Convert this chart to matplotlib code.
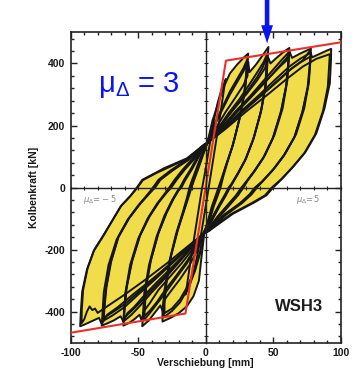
import matplotlib
matplotlib.use("Agg")
import matplotlib.pyplot as plt
from matplotlib.ticker import MultipleLocator

# hysteresis loops (mm, kN); each loop is closed
loop15_x = [0, 3, 6, 9, 12, 15, 14, 11, 7, 3, 0, -3, -6, -9, -12, -15, -14, -11, -7, -3, 0]
loop15_y = [60, 140, 215, 275, 320, 350, 330, 240, 130, 20, -60, -140, -215, -275, -315, -345, -320, -230, -120, -10, 60]

loop31a_x = [1, 5, 10, 14, 18, 23, 28, 31.5, 31, 29.5, 26, 21, 16, 13, 11, 9, 6, 2, -1,
             -3, -5, -9, -14, -20, -26, -32, -32, -30.5, -27, -22, -17, -14, -12, -10, -7, -3, 1]
loop31a_y = [140, 215, 282, 330, 368, 395, 418, 432, 400, 330, 240, 150, 80, 35, 0, -25, -60, -120, -148,
             -220, -300, -350, -383, -405, -420, -432, -400, -330, -240, -150, -80, -35, 0, 25, 60, 105, 140]

loop31b_x = [1, 6, 12, 18, 24, 28, 31, 30.5, 29, 25, 20, 15, 12, 10, 8, 5, 1, -2,
             -4, -8, -13, -19, -25, -31, -31, -29.5, -26, -21, -16, -13, -11, -9, -6, -2, 1]
loop31b_y = [142, 200, 255, 310, 355, 385, 415, 380, 310, 220, 135, 70, 28, 0, -25, -62, -125, -150,
             -210, -270, -325, -370, -398, -418, -385, -315, -225, -140, -72, -30, 0, 25, 60, 110, 142]

loop31c_x = [1, 6, 12, 18, 24, 28, 30.5, 30, 28.5, 24.5, 19.5, 14.5, 11.5, 9.5, 7.5, 4.5, 0.5, -2,
             -4, -8, -13, -19, -25, -30.5, -30.5, -29, -25.5, -20.5, -15.5, -12.5, -10.5, -8.5, -5.5, -1.5, 1]
loop31c_y = [142, 195, 248, 300, 345, 375, 400, 368, 300, 212, 128, 65, 25, 0, -25, -62, -125, -150,
             -205, -262, -315, -360, -390, -405, -372, -305, -218, -135, -68, -28, 0, 25, 60, 110, 142]

loop46a_x = [1, 8, 15, 22, 28, 31, 31.5, 32.5, 37, 42, 46.5, 46, 45, 41.5, 36, 30, 24, 20, 18, 15, 11, 6, 1, -2,
             -6, -12, -19, -26, -31, -32, -33.5, -38, -42, -47, -46.5, -45.5, -42, -36.5, -30.5, -25, -21, -19,
             -16, -11, -6, -1, 1]
loop46a_y = [143, 195, 245, 290, 330, 360, 405, 372, 395, 425, 453, 420, 345, 255, 165, 95, 45, 15, 0, -25, -55, -95, -140, -150,
             -200, -250, -295, -335, -365, -398, -380, -405, -428, -447, -415, -340, -250, -160, -90, -42, -12, 0,
             25, 60, 100, 138, 143]

loop46b_x = [1, 9, 17, 25, 32, 38, 43, 46, 45.5, 44.5, 41, 35.5, 29.5, 23.5, 19.5, 17.5, 14.5, 10.5, 5.5, 0.5, -2,
             -7, -14, -22, -30, -37, -42, -46, -45.5, -44.5, -41, -35.5, -29.5, -24.5, -20.5, -18.5, -15.5, -10.5,
             -5.5, -0.5, 1]
loop46b_y = [143, 190, 240, 285, 330, 370, 405, 435, 400, 330, 245, 158, 90, 42, 12, 0, -25, -55, -95, -140, -150,
             -195, -245, -292, -340, -380, -408, -428, -395, -325, -240, -152, -85, -40, -10, 0, 25, 60,
             100, 138, 143]

loop46c_x = [1, 9, 17, 25, 32, 38, 42, 45.5, 45, 44, 40.5, 35, 29, 23, 19, 17, 14, 10, 5, 0.5, -2,
             -7, -14, -22, -30, -36, -41, -45.5, -45, -44, -40.5, -35, -29, -24, -20, -18, -15, -10, -5, -0.5, 1]
loop46c_y = [143, 185, 232, 275, 318, 355, 385, 420, 388, 320, 238, 152, 86, 40, 11, 0, -25, -55, -95, -140, -150,
             -190, -238, -285, -330, -368, -395, -415, -383, -316, -233, -147, -82, -38, -9, 0, 25, 60, 100, 138, 143]

loop62a_x = [1, 10, 20, 30, 38, 44, 46.5, 48, 53, 58, 62, 61.5, 60.5, 57, 51, 44, 37, 31, 28, 24, 18, 10, 2, -2,
             -9, -18, -27, -35, -41, -46, -47.5, -49, -53, -57, -61, -60.5, -59.5, -56, -50, -43, -36, -30, -27,
             -23, -17, -9, -1, 1]
loop62a_y = [143, 195, 250, 300, 345, 385, 418, 400, 420, 438, 450, 418, 345, 255, 170, 105, 58, 22, 0, -25, -55, -95, -140, -150,
             -195, -245, -290, -330, -370, -400, -428, -410, -425, -437, -445, -412, -340, -250, -165, -100, -52, -18, 0,
             25, 58, 97, 138, 143]

loop62b_x = [1, 11, 22, 33, 42, 50, 56, 62, 61.5, 60, 56, 50, 43, 36, 30, 27, 23, 17, 9, 1, -2,
             -10, -20, -30, -40, -48, -55, -61, -60.5, -59, -55, -49, -42, -35, -29, -26, -22, -16, -8, -1, 1]
loop62b_y = [143, 190, 245, 295, 340, 380, 410, 438, 405, 335, 248, 162, 98, 52, 18, 0, -25, -55, -95, -140, -150,
             -192, -242, -292, -338, -378, -410, -432, -400, -330, -243, -158, -95, -48, -15, 0, 25, 58, 97, 138, 143]

loop62c_x = [1, 11, 22, 33, 42, 50, 56, 61.5, 61, 59.5, 55.5, 49.5, 42.5, 35.5, 29.5, 26.5, 22.5, 16.5, 8.5, 1, -2,
             -10, -20, -30, -40, -48, -55, -60.5, -60, -58.5, -54.5, -48.5, -41.5, -34.5, -28.5, -25.5, -21.5, -15.5,
             -7.5, -1, 1]
loop62c_y = [143, 185, 238, 288, 330, 368, 398, 425, 393, 325, 240, 156, 94, 50, 16, 0, -25, -55, -95, -140, -150,
             -188, -238, -286, -330, -368, -398, -420, -390, -322, -237, -153, -92, -46, -14, 0, 25, 58,
             97, 138, 143]

loop78a_x = [1, 12, 24, 36, 46, 55, 60, 62, 64, 70, 74, 78, 77.5, 76.5, 73, 67, 59, 51, 43, 38, 34, 27, 15, 3, -2,
             -11, -23, -35, -45, -53, -58, -61, -63, -68, -73, -77, -76.5, -75.5, -72, -66, -58, -50, -43, -39,
             -35, -26, -14, -2, 1]
loop78a_y = [143, 195, 250, 305, 350, 390, 410, 440, 418, 432, 440, 448, 415, 340, 255, 172, 110, 63, 24, 0, -22, -50, -88, -138, -150,
             -195, -248, -300, -345, -385, -405, -432, -415, -428, -438, -445, -410, -338, -250, -168, -105, -58, -22, 0,
             25, 55, 90, 136, 143]

loop78b_x = [1, 13, 26, 40, 52, 62, 70, 78, 77.5, 76, 72, 66, 58, 50, 42, 37, 33, 26, 14, 2, -2,
             -12, -25, -38, -50, -60, -69, -76, -75.5, -74, -70.5, -65, -57, -49, -42, -38, -34, -25, -13, -1, 1]
loop78b_y = [143, 190, 245, 300, 350, 390, 415, 435, 400, 330, 248, 165, 104, 58, 20, 0, -22, -50, -88, -138, -150,
             -192, -245, -298, -345, -385, -412, -430, -398, -328, -243, -162, -100, -54, -20, 0, 25, 55, 90, 136, 143]

loop78c_x = [1, 13, 26, 40, 52, 62, 70, 77.5, 77, 75.5, 71.5, 65.5, 57.5, 49.5, 41.5, 36.5, 32.5, 25.5, 13.5, 2, -2,
             -12, -25, -38, -50, -60, -69, -75.5, -75, -73.5, -70, -64.5, -56.5, -48.5, -41.5, -37.5, -33.5, -24.5,
             -12.5, -1, 1]
loop78c_y = [143, 185, 238, 292, 340, 378, 403, 422, 390, 322, 242, 160, 100, 55, 18, 0, -22, -50, -88, -138, -150,
             -188, -240, -292, -338, -376, -402, -420, -390, -320, -238, -158, -97, -52, -18, 0, 25, 55,
             90, 136, 143]

loop93a_x = [1, 14, 28, 42, 54, 64, 72, 77, 79, 85, 90, 93, 92.8, 92, 88, 82, 74, 65, 57, 50, 45, 36, 20, 3, -2,
             -13, -27, -41, -54, -65, -73, -77, -79, -85, -90, -93, -92.5, -91.5, -88, -83, -76, -63, -56, -51,
             -47, -36, -31, -14, -1, 1]
loop93a_y = [143, 195, 250, 300, 345, 385, 410, 440, 420, 432, 442, 447, 405, 336, 255, 175, 115, 68, 30, 0, -25, -48, -85, -138, -150,
             -195, -250, -300, -345, -385, -410, -440, -420, -432, -442, -447, -400, -335, -265, -205, -157, -61, -28, 0,
             25, 50, 62, 94, 138, 143]

loop93b_x = [1, 15, 30, 46, 60, 72, 82, 92, 91.5, 90.5, 87, 81, 73, 64, 56, 49, 44, 35, 19, 2, -2,
             -14, -29, -45, -60, -72, -80, -82, -84, -86, -88, -90, -92, -91.8, -90.8, -87.5, -82.5, -75.5, -62.5,
             -55.5, -50.5, -46.5, -36, -14, -1, 1]
loop93b_y = [143, 190, 245, 300, 350, 390, 415, 430, 395, 325, 248, 170, 110, 64, 27, 0, -25, -48, -85, -138, -150,
             -192, -245, -298, -345, -380, -404, -390, -395, -383, -400, -425, -438, -395, -330, -260, -200, -152, -58,
             -26, 0, 24, 48, 92, 138, 143]

loops = [
    (loop15_x, loop15_y),
    (loop31a_x, loop31a_y), (loop31b_x, loop31b_y), (loop31c_x, loop31c_y),
    (loop46a_x, loop46a_y), (loop46b_x, loop46b_y), (loop46c_x, loop46c_y),
    (loop62a_x, loop62a_y), (loop62b_x, loop62b_y), (loop62c_x, loop62c_y),
    (loop78a_x, loop78a_y), (loop78b_x, loop78b_y), (loop78c_x, loop78c_y),
    (loop93a_x, loop93a_y), (loop93b_x, loop93b_y),
]

# bilinear idealisation
bilin_x = [-100, -15, 15, 100]
bilin_y = [-468, -406, 409, 468]

arrow_x = 45.5

plt.rcParams['font.family'] = ['Liberation Sans', 'DejaVu Sans']
plt.rcParams['mathtext.fontset'] = 'dejavusans'
plt.rcParams['axes.unicode_minus'] = False

fig = plt.figure(figsize=(3.58, 3.72), dpi=100)
ax = fig.add_axes([0.1975, 0.0788, 0.754, 0.834])

yellow = '#f1dc4c'
for lx, ly in loops:
    ax.fill(lx, ly, color=yellow, lw=0, zorder=1)
for lx, ly in loops:
    ax.plot(lx, ly, color='#161616', lw=1.4, solid_joinstyle='round', zorder=2)

ax.plot(bilin_x, bilin_y, color='#e8312b', lw=1.5, zorder=3)

ax.set_xlim(-100, 100)
ax.set_ylim(-500, 500)
ax.xaxis.set_major_locator(MultipleLocator(50))
ax.xaxis.set_minor_locator(MultipleLocator(10))
ax.yaxis.set_major_locator(MultipleLocator(200))
ax.yaxis.set_minor_locator(MultipleLocator(40))
ax.tick_params(which='both', direction='in', top=True, right=True, color='#222222', width=1.0)
ax.tick_params(which='major', length=4, labelsize=7.5, pad=4, labelcolor='#1a1a1a')
ax.tick_params(which='minor', length=2.2)
for lab in ax.get_xticklabels() + ax.get_yticklabels():
    lab.set_fontweight('bold')
for s in ax.spines.values():
    s.set_linewidth(1.2)
    s.set_color('#222222')

ax.set_xlabel('Verschiebung [mm]', fontsize=7.5, fontweight='bold', labelpad=0, color='#1a1a1a')
ax.set_ylabel('Kolbenkraft [kN]', fontsize=7.5, fontweight='bold', labelpad=4, color='#1a1a1a')

# axes through the origin with their own ticks
ax0 = fig.add_axes(ax.get_position(), sharex=ax, sharey=ax)
ax0.patch.set_visible(False)
ax0.spines['top'].set_visible(False)
ax0.spines['right'].set_visible(False)
ax0.spines['left'].set_position(('data', 0))
ax0.spines['bottom'].set_position(('data', 0))
for s in ['left', 'bottom']:
    ax0.spines[s].set_linewidth(1.0)
    ax0.spines[s].set_color('#222222')
ax0.tick_params(which='both', direction='inout', labelleft=False, labelbottom=False,
                color='#222222', width=0.8)
ax0.tick_params(which='major', length=3)
ax0.tick_params(which='minor', length=2.5)

ax.text(-80, 309, r'$\mathregular{\mu_{\Delta}}$ = 3', color='#0a14f0', fontsize=21,
        ha='left', va='baseline', zorder=5)
ax.text(87, -399, 'WSH3', fontsize=12, fontweight='bold', color='#1c1c1c',
        ha='right', va='baseline', zorder=5)
ax.text(-91, -40, r'$\mu_\Delta\!=\!-5$', fontsize=6, color='#8a8a8a', ha='left', va='center', zorder=5)
ax.text(67, -40, r'$\mu_\Delta\!=\!5$', fontsize=6, color='#8a8a8a', ha='left', va='center', zorder=5)

ax.annotate('', xy=(arrow_x, 465), xytext=(arrow_x, 615), annotation_clip=False,
            arrowprops=dict(facecolor='#0a14f0', edgecolor='none', width=3.3, headwidth=8.5,
                            headlength=13, shrink=0))

fig.savefig('out.png', dpi=100)
